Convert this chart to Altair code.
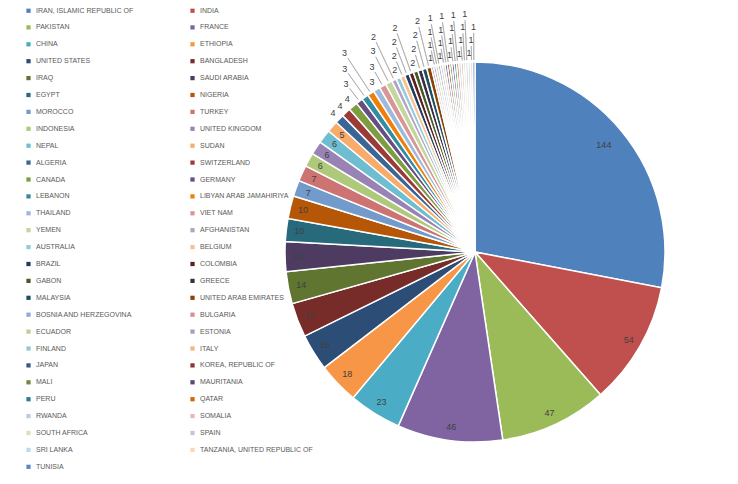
import altair as alt
import pandas as pd

countries = [
    "IRAN, ISLAMIC REPUBLIC OF", "INDIA", "PAKISTAN", "FRANCE", "CHINA", "ETHIOPIA",
    "UNITED STATES", "BANGLADESH", "IRAQ", "SAUDI ARABIA", "EGYPT", "NIGERIA",
    "MOROCCO", "TURKEY", "INDONESIA", "UNITED KINGDOM", "NEPAL", "SUDAN",
    "ALGERIA", "SWITZERLAND", "CANADA", "GERMANY", "LEBANON", "LIBYAN ARAB JAMAHIRIYA",
    "THAILAND", "VIET NAM", "YEMEN", "AFGHANISTAN", "AUSTRALIA", "BELGIUM",
    "BRAZIL", "COLOMBIA", "GABON", "GREECE", "MALAYSIA", "UNITED ARAB EMIRATES",
    "BOSNIA AND HERZEGOVINA", "BULGARIA", "ECUADOR", "ESTONIA", "FINLAND", "ITALY",
    "JAPAN", "KOREA, REPUBLIC OF", "MALI", "MAURITANIA", "PERU", "QATAR",
    "RWANDA", "SOMALIA", "SOUTH AFRICA", "SPAIN", "SRI LANKA", "TANZANIA, UNITED REPUBLIC OF",
    "TUNISIA",
]

values = [
    144, 54, 47, 46, 23, 18,
    16, 15, 14, 13, 10, 10,
    7, 7, 6, 6, 6, 5,
    4, 4, 4, 3, 3, 3,
    3, 3, 3, 2, 2, 2,
    2, 2, 2, 2, 2, 2,
    1, 1, 1, 1, 1, 1,
    1, 1, 1, 1, 1, 1,
    1, 1, 1, 1, 1, 1,
    1,
]

colors = [
    "#4F81BD", "#C0504D", "#9BBB59", "#8064A2", "#4BACC6", "#F79646",
    "#2C4D75", "#772C2A", "#5F7530", "#4D3B62", "#276A7C", "#B65708",
    "#729ACA", "#CD7371", "#AFC97A", "#9983B5", "#6FBDD1", "#F9AB6B",
    "#3A6595", "#9C3A38", "#7E9C40", "#664E82", "#338CA3", "#F07F09",
    "#9DB9DC", "#D99694", "#C3D69B", "#B3A2C7", "#93CDDD", "#FAC090",
    "#203D5E", "#5A2120", "#475A24", "#3A2D4A", "#1D505D", "#894106",
    "#8EADD6", "#D88F8E", "#BCD193", "#AC9AC4", "#8FCAD9", "#FAB47F",
    "#36598A", "#8E3432", "#71893A", "#5A4674", "#2E7E93", "#D6660A",
    "#B9CDE5", "#E6B9B8", "#D7E4BD", "#CCC1DA", "#B7DEE8", "#FCD5B5",
    "#5B89C6",
]

# legend is filled column by column, so interleave to read row by row
legend_order = countries[0::2] + countries[1::2]
legend_colors = colors[0::2] + colors[1::2]

df = pd.DataFrame({"country": countries, "value": values, "idx": list(range(len(countries)))})

R = 190
CX, CY = 467, 244

base = (
    alt.Chart(df)
    .transform_window(cum="sum(value)", sort=[alt.SortField("idx")], frame=[None, 0])
    .transform_joinaggregate(total="sum(value)")
    .transform_calculate(
        t0="2*PI*(datum.cum-datum.value)/datum.total",
        t1="2*PI*datum.cum/datum.total",
        mid="2*PI*(datum.cum-datum.value/2)/datum.total",
        lr=(
            f"datum.value >= 100 ? {R * 0.88} : datum.value >= 5 ? {R - 13} : "
            f"datum.value == 4 ? {R + 9} : {R + 9} + (datum.idx % 4) * 13"
        ),
    )
)

arcs = base.mark_arc(radius=R, stroke="white", strokeWidth=1.5).encode(
    x=alt.value(CX),
    y=alt.value(CY),
    theta=alt.Theta("t0:Q", scale=None),
    theta2="t1:Q",
    color=alt.Color(
        "country:N",
        scale=alt.Scale(domain=legend_order, range=legend_colors),
        sort=legend_order,
        legend=alt.Legend(
            orient="none",
            legendX=17,
            legendY=-1,
            columns=2,
            title=None,
            symbolType="square",
            symbolSize=18,
            symbolStrokeWidth=0,
            labelFontSize=7,
            labelFont="Liberation Sans Narrow, Liberation Sans, sans-serif",
            labelColor="#595959",
            labelLimit=300,
            rowPadding=8.9,
            columnPadding=55,
            padding=0,
            symbolLimit=100,
        ),
    ),
    order=alt.Order("idx:Q"),
)

leaders = (
    base.transform_filter(f"datum.value <= 3 && datum.lr > {R + 15}")
    .transform_calculate(r0=f"{R + 2}", r1="datum.lr - 6")
    .mark_arc(stroke="#A6A6A6", strokeWidth=0.7, fillOpacity=0)
    .encode(
        x=alt.value(CX),
        y=alt.value(CY),
        theta=alt.Theta("mid:Q", scale=None),
        theta2="mid:Q",
        radius=alt.Radius("r1:Q", scale=None),
        radius2="r0:Q",
    )
)

labels = base.mark_text(
    fontSize=9, color="#404040", font="Liberation Sans, sans-serif"
).encode(
    x=alt.value(CX),
    y=alt.value(CY),
    theta=alt.Theta("mid:Q", scale=None),
    radius=alt.Radius("lr:Q", scale=None),
    text="value:Q",
)

chart = (
    alt.layer(arcs, leaders, labels)
    .properties(width=722, height=468, autosize="none", padding=0, background="white")
    .configure_view(stroke=None)
)

chart.save("out.html", embed_options={"renderer": "svg", "actions": False})
